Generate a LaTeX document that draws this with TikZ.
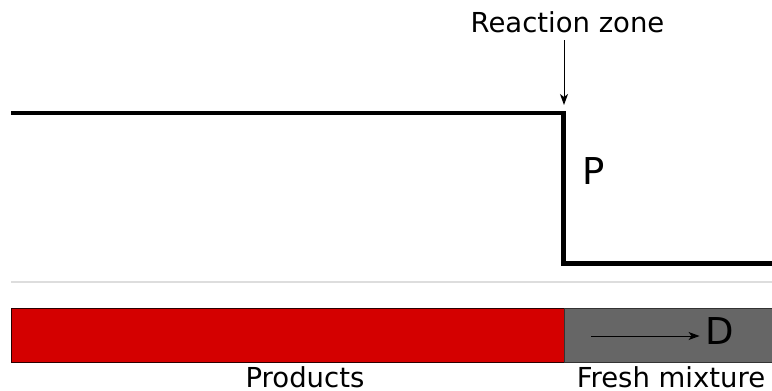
\documentclass[tikz,border=0pt]{standalone}
\usepackage{fontspec}
\setmainfont{DejaVu Sans}
\usetikzlibrary{arrows.meta}
\definecolor{prodred}{HTML}{D40000}
\definecolor{freshgray}{HTML}{666666}
\definecolor{sepgray}{HTML}{DDDDDD}
\tikzset{
  lbl/.style={inner sep=0pt, anchor=base, font=\fontsize{27.5}{32}\selectfont},
  biglbl/.style={inner sep=0pt, anchor=base, font=\fontsize{37}{44}\selectfont},
  thinarrow/.style={line width=1pt, -{Stealth[length=11pt,width=8pt,inset=3pt]}},
  profile/.style={line width=4.5pt, line join=miter},
  bar/.style={line width=1pt}
}
\begin{document}
\begin{tikzpicture}[x=1pt,y=-1pt]
\useasboundingbox (0,0) rectangle (772,391);
% pressure profile
\coordinate (pl) at (11,113);
\coordinate (pc) at (563.5,113);
\coordinate (pd) at (563.5,263.5);
\coordinate (pr) at (772,263.5);
\draw[profile] (pl) -- (pc) -- (pd) -- (pr);
% separator
\draw[sepgray, line width=2.5pt] (11,282) -- (772,282);
% bars
\draw[bar, draw=black!80!prodred, fill=prodred] (11,308) rectangle (564,362);
\draw[bar, draw=black!80, fill=freshgray] (564,308) rectangle (775,362);
% labels
\node[lbl] (rz) at (567.5,32) {Reaction zone};
\coordinate (rztip) at (564,105);
\draw[thinarrow] (564,40) -- (rztip);
\node[biglbl] (P) at (593.5,184) {P};
\node[biglbl] (D) at (720,344) {D};
\coordinate (dstart) at (591,336);
\draw[thinarrow, shorten >=6pt] (dstart) -- (dstart -| D.west);
\node[lbl] (prod) at (305,387) {Products};
\node[lbl] (fresh) at (671,387) {Fresh mixture};
\end{tikzpicture}
\end{document}
